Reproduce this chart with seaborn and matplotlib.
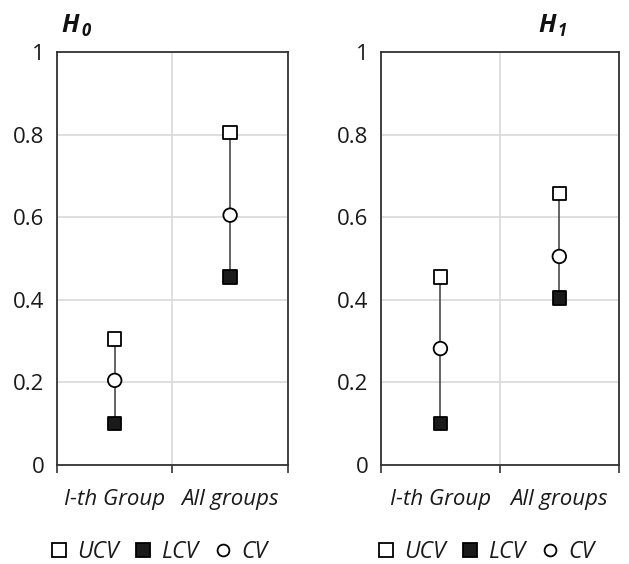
import matplotlib
matplotlib.use('Agg')
import matplotlib.pyplot as plt
import matplotlib.lines as mlines
import seaborn as sns
import pandas as pd

# ------------------------------------------------------------
# data
# ------------------------------------------------------------
groups = ["I-th Group", "All groups"]
series = ["LCV", "CV", "UCV"]

h0_lcv = [0.10, 0.455]
h0_cv = [0.205, 0.605]
h0_ucv = [0.305, 0.805]

h1_lcv = [0.10, 0.405]
h1_cv = [0.282, 0.505]
h1_ucv = [0.455, 0.657]

panels = {"H0": (h0_lcv, h0_cv, h0_ucv), "H1": (h1_lcv, h1_cv, h1_ucv)}

rows = []
for panel, vals in panels.items():
    for s, v in zip(series, vals):
        for i, g in enumerate(groups):
            rows.append({"panel": panel, "group": g, "pos": i + 0.5,
                         "series": s, "value": v[i]})
df = pd.DataFrame(rows)

sns.set_theme(style="white")
plt.rcParams['font.family'] = ['Open Sans', 'DejaVu Sans']

markers = {"UCV": "s", "LCV": "s", "CV": "o"}
faces = {"UCV": "white", "LCV": "#1a1a1a", "CV": "white"}
txt = "#1a1a1a"

fig = plt.figure(figsize=(6.29, 5.64), dpi=100)
ax0 = fig.add_axes([0.0906, 0.1755, 0.367, 0.7323])
ax1 = fig.add_axes([0.6057, 0.1755, 0.378, 0.7323])

for ax, panel in [(ax0, "H0"), (ax1, "H1")]:
    d = df[df["panel"] == panel]
    sns.lineplot(data=d, x="pos", y="value", units="group", estimator=None,
                 sort=False, color="#3a3a3a", linewidth=1.1, ax=ax, zorder=2)
    sns.scatterplot(data=d, x="pos", y="value", hue="series", style="series",
                    markers=markers, palette=faces, s=95, edgecolor="black",
                    linewidth=1.3, ax=ax, legend=False, zorder=3)

    ax.set_xlim(0, 2)
    ax.set_ylim(0, 1)
    ax.set_yticks([0, 0.2, 0.4, 0.6, 0.8, 1.0])
    ax.set_yticklabels(["0", "0.2", "0.4", "0.6", "0.8", "1"], fontsize=16,
                       color=txt)
    ax.set_xticks([0, 1, 2])
    ax.set_xticklabels([])
    ax.set_xticks([0.5, 1.5], minor=True)
    ax.set_xticklabels(groups, minor=True, fontsize=16, style="italic",
                       color=txt)
    ax.tick_params(axis="x", which="major", direction="out", length=6,
                   width=1.2, color="#333333", bottom=True)
    ax.tick_params(axis="x", which="minor", length=0, pad=17)
    ax.tick_params(axis="y", length=0, pad=9)
    ax.set_xlabel("")
    ax.set_ylabel("")

    ax.grid(True, which="major", color="#d9d9d9", linewidth=1.2)
    ax.set_axisbelow(True)
    for sp in ax.spines.values():
        sp.set_color("#333333")
        sp.set_linewidth(1.3)
        sp.set_visible(True)

# titles H0 / H1 with subscript
for x0, sub in [(0.098, "0"), (0.856, "1")]:
    fig.text(x0, 0.944, "H", fontsize=18, fontweight="bold", style="italic",
             color="#111111")
    fig.text(x0 + 0.031, 0.937, sub, fontsize=12, fontweight="bold",
             style="italic", color="#111111")

# legends below each panel
def make_handles():
    return [mlines.Line2D([], [], linestyle="none", marker=markers[s],
                          markerfacecolor=faces[s], markeredgecolor="black",
                          markeredgewidth=1.3,
                          markersize=10 if s != "CV" else 8.5, label=s)
            for s in ["UCV", "LCV", "CV"]]

for xc in [0.250, 0.770]:
    leg = fig.legend(handles=make_handles(), loc="center",
                     bbox_to_anchor=(xc, 0.022), ncol=3, frameon=False,
                     handletextpad=0.3, columnspacing=0.55, handlelength=1.0,
                     prop={"size": 16.5, "style": "italic"})
    for t in leg.get_texts():
        t.set_color(txt)

fig.savefig("out.png", dpi=100)
plt.close(fig)
